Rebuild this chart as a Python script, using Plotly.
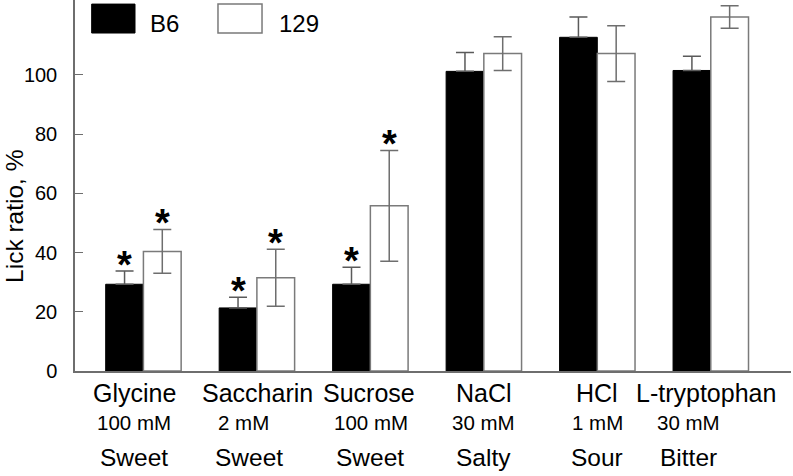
import plotly.graph_objects as go

# ---- data ----
categories = ["Glycine", "Saccharin", "Sucrose", "NaCl", "HCl", "L-tryptophan"]
concentrations = ["100 mM", "2 mM", "100 mM", "30 mM", "1 mM", "30 mM"]
tastes = ["Sweet", "Sweet", "Sweet", "Salty", "Sour", "Bitter"]
b6_values = [29.3, 21.3, 29.3, 101.2, 112.7, 101.5]
b6_errors = [4.5, 3.6, 5.7, 6.4, 6.9, 4.8]
s129_values = [40.4, 31.5, 55.8, 107.2, 107.2, 119.6]
s129_errors = [7.4, 9.6, 18.7, 5.7, 9.4, 3.8]
b6_signif = [True, True, True, False, False, False]
s129_signif = [True, True, True, False, False, False]
y_ticks = [0, 20, 40, 60, 80, 100]

FONT = "Arial, Liberation Sans, sans-serif"
AXIS_GREY = "#6e6e6e"

fig = go.Figure()
fig.add_trace(go.Bar(
    name="B6", x=categories, y=b6_values,
    marker=dict(color="black", line=dict(color="black", width=1)),
    error_y=dict(type="data", symmetric=False, array=b6_errors,
                 arrayminus=[0] * len(b6_errors),
                 color="#5a5a5a", thickness=1.5, width=9),
))
fig.add_trace(go.Bar(
    name="129", x=categories, y=s129_values,
    marker=dict(color="white", line=dict(color="#7a7a7a", width=1.5)),
    error_y=dict(type="data", array=s129_errors,
                 color=AXIS_GREY, thickness=1.5, width=9),
))

annotations = []
# significance asterisks
for i, cat in enumerate(categories):
    for sig, vals, errs, shift in ((b6_signif, b6_values, b6_errors, -18.8),
                                   (s129_signif, s129_values, s129_errors, 18.8)):
        if sig[i]:
            annotations.append(dict(
                x=cat, y=vals[i] + errs[i], xref="x", yref="y",
                text="<b>*</b>", showarrow=False, xshift=shift, yshift=-17,
                yanchor="bottom", font=dict(family=FONT, size=38, color="black")))

# multi-line category labels
name_shift = [-9, 1, -1, 0, 0, -5]
conc_shift = [-9, -13, 1, 0, 0, -22]
taste_shift = [-9, -8, 0, 0, 0, -22]
for i, cat in enumerate(categories):
    annotations.append(dict(x=cat, y=-0.0593, xref="x", yref="paper", text=categories[i],
                            showarrow=False, xshift=name_shift[i], yanchor="middle",
                            font=dict(family=FONT, size=25, color="black")))
    annotations.append(dict(x=cat, y=-0.1393, xref="x", yref="paper", text=concentrations[i],
                            showarrow=False, xshift=conc_shift[i], yanchor="middle",
                            font=dict(family=FONT, size=20.5, color="black")))
    annotations.append(dict(x=cat, y=-0.2345, xref="x", yref="paper", text=tastes[i],
                            showarrow=False, xshift=taste_shift[i], yanchor="middle",
                            font=dict(family=FONT, size=24.5, color="black")))

# y axis title
annotations.append(dict(x=-0.0838, y=0.418, xref="paper", yref="paper", text="Lick ratio, %",
                        textangle=-90, showarrow=False, xanchor="center", yanchor="middle",
                        font=dict(family=FONT, size=24.5, color="black")))

# legend (drawn manually to match the large swatches)
shapes = [
    dict(type="rect", xref="paper", yref="paper", x0=0.0233, x1=0.0838, y0=0.911, y1=0.989,
         fillcolor="black", line=dict(color="black", width=1)),
    dict(type="rect", xref="paper", yref="paper", x0=0.1997, x1=0.2612, y0=0.911, y1=0.989,
         fillcolor="white", line=dict(color="#7a7a7a", width=1.5)),
]
annotations.append(dict(x=0.102, y=0.937, xref="paper", yref="paper", text="B6",
                        showarrow=False, xanchor="left", yanchor="middle",
                        font=dict(family=FONT, size=24, color="black")))
annotations.append(dict(x=0.282, y=0.937, xref="paper", yref="paper", text="129",
                        showarrow=False, xanchor="left", yanchor="middle",
                        font=dict(family=FONT, size=24, color="black")))

fig.update_layout(
    width=793, height=476,
    margin=dict(l=75, r=2, t=0, b=105),
    paper_bgcolor="white", plot_bgcolor="white",
    barmode="group", bargap=0.335, bargroupgap=0,
    showlegend=False,
    annotations=annotations, shapes=shapes,
    font=dict(family=FONT, color="black"),
    xaxis=dict(type="category", range=[-0.603, 5.707], showticklabels=False,
               showline=True, linecolor=AXIS_GREY, linewidth=1.5, ticks="",
               showgrid=False, zeroline=False),
    yaxis=dict(range=[0, 125.3], tickvals=y_ticks, showline=True, linecolor=AXIS_GREY,
               linewidth=1.5, ticks="inside", ticklen=8, tickcolor=AXIS_GREY, tickwidth=1,
               showgrid=False, zeroline=False, ticklabelstandoff=12,
               tickfont=dict(family=FONT, size=20, color="black")),
)

fig.write_html("out.html", config={"displayModeBar": False},
               post_script="document.body.style.margin='0px';")
